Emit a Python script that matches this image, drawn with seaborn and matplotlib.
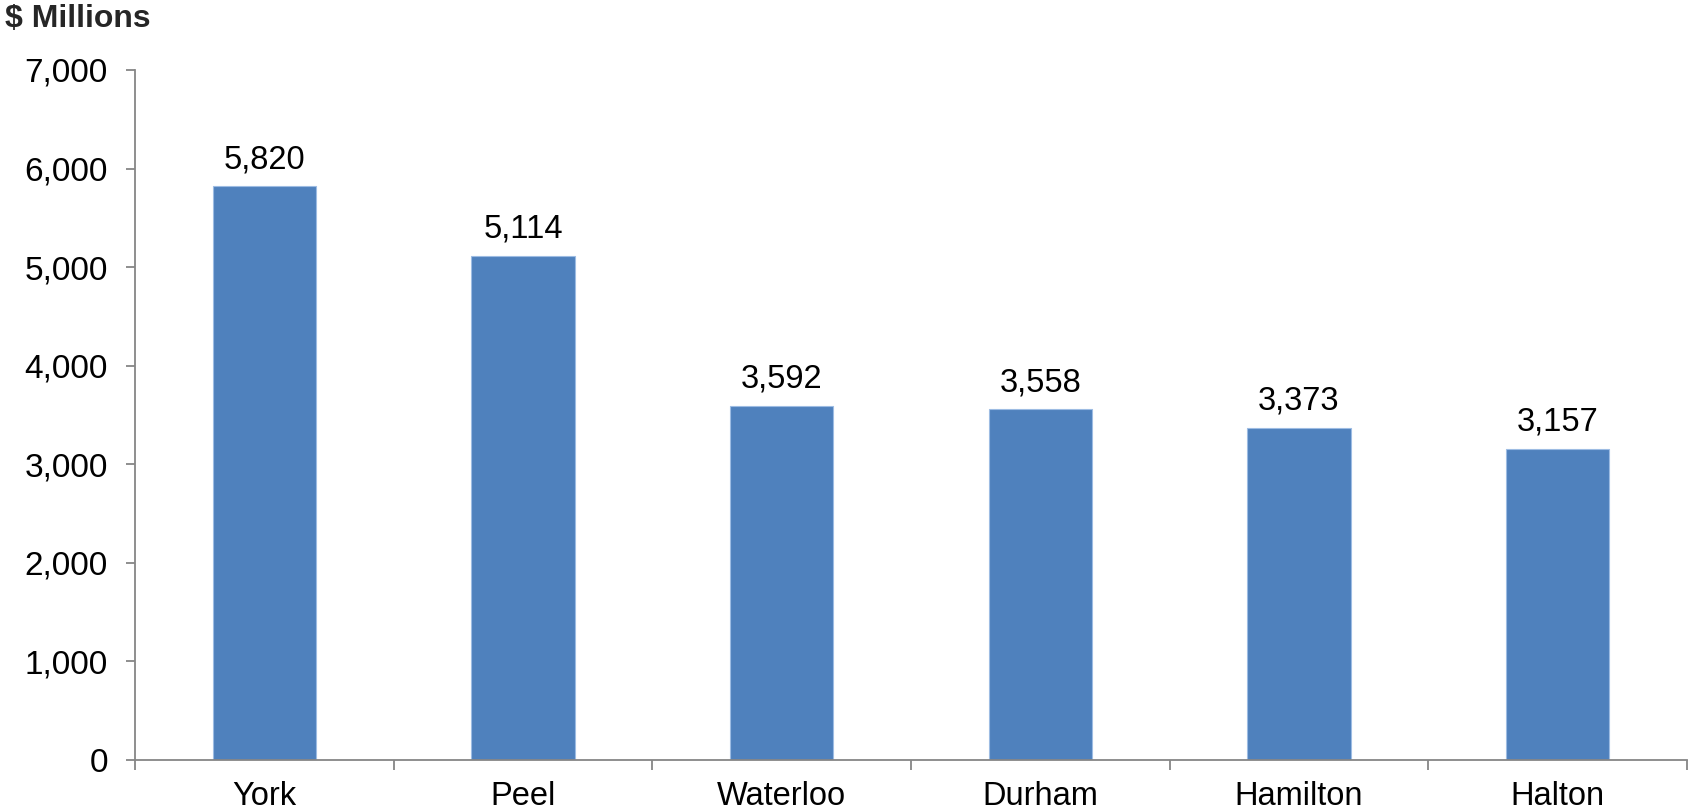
import matplotlib
matplotlib.use("Agg")
import matplotlib.pyplot as plt
import seaborn as sns
import pandas as pd
from matplotlib.ticker import FuncFormatter, FixedLocator

regions = ["York", "Peel", "Waterloo", "Durham", "Hamilton", "Halton"]
values = [5820, 5114, 3592, 3558, 3373, 3157]
y_ticks = [0, 1000, 2000, 3000, 4000, 5000, 6000, 7000]

sns.set_theme(style="white")
plt.rcParams['font.family'] = ['Liberation Sans', 'DejaVu Sans']

df = pd.DataFrame({"region": regions, "value": values})

fig = plt.figure(figsize=(16.9, 8.11), dpi=100)
ax = fig.add_axes([135/1690, 1-760/811, (1687-135)/1690, (760-70)/811])

sns.barplot(data=df, x="region", y="value", color="#4F81BD", saturation=1,
            width=0.4, edgecolor="#9DBCE3", linewidth=0.8, ax=ax)

ax.set_xlim(-0.5, len(regions) - 0.5)
ax.set_ylim(0, 7000)
ax.set_yticks(y_ticks)
ax.yaxis.set_major_formatter(FuncFormatter(lambda v, p: f"{int(v):,}"))
ax.set_xlabel("")
ax.set_ylabel("")

for s in ["top", "right"]:
    ax.spines[s].set_visible(False)
for s in ["left", "bottom"]:
    ax.spines[s].set_color("#868686")
    ax.spines[s].set_linewidth(1.3)

ax.tick_params(axis="y", which="major", direction="out", length=6.5, width=1.3,
               color="#868686", pad=13, labelsize=24, labelcolor="black", left=True)
ax.tick_params(axis="x", which="major", length=0, pad=15, labelsize=23.5, labelcolor="black")
ax.xaxis.set_minor_locator(FixedLocator([i - 0.5 for i in range(len(regions) + 1)]))
ax.tick_params(axis="x", which="minor", direction="out", length=7, width=1.3,
               color="#868686", bottom=True)

for c in ax.containers:
    ax.bar_label(c, labels=[f"{v:,}" for v in values], padding=8, fontsize=23.5, color="black")

fig.text(5/1690, 1-19/811, "$ Millions", fontsize=23, fontweight="bold", va="center", ha="left")

fig.savefig("out.png", dpi=100)
